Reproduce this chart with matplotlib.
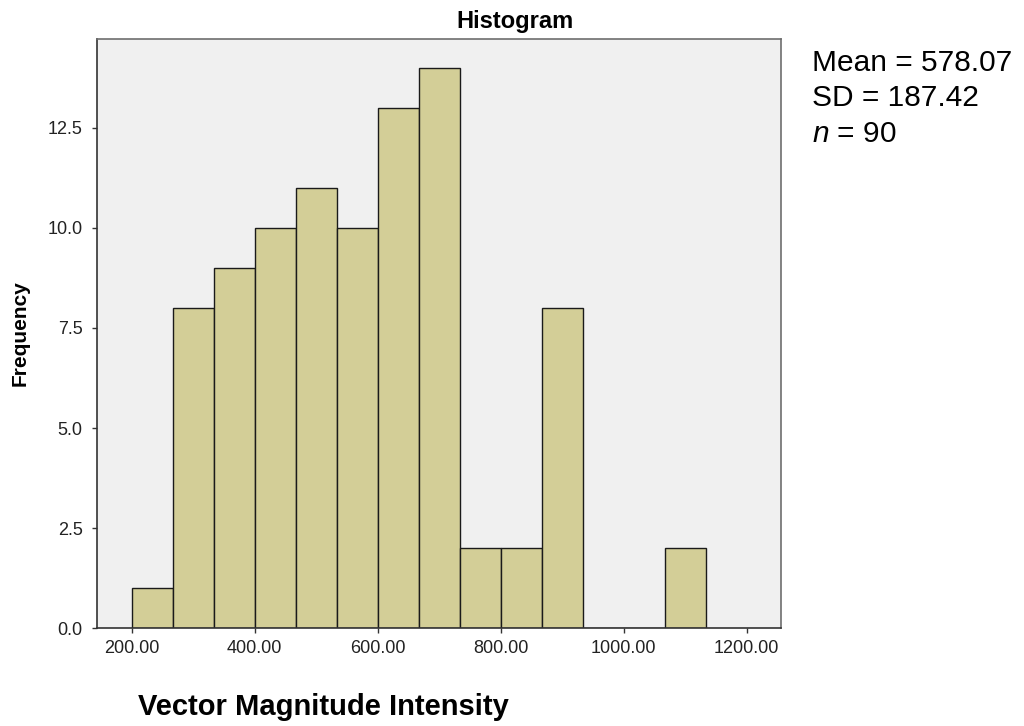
import numpy as np
import matplotlib
matplotlib.use("Agg")
import matplotlib.pyplot as plt

plt.rcParams['font.family'] = ['Liberation Sans', 'DejaVu Sans']
plt.rcParams['mathtext.fontset'] = 'custom'
plt.rcParams['mathtext.rm'] = 'Liberation Sans'
plt.rcParams['mathtext.it'] = 'Liberation Sans:italic'

# histogram bins (vector magnitude intensity) and counts
bin_edges = [200.00, 266.67, 333.33, 400.00, 466.67, 533.33, 600.00, 666.67,
             733.33, 800.00, 866.67, 933.33, 1000.00, 1066.67, 1133.33]
counts = [1, 8, 9, 10, 11, 10, 13, 14, 2, 2, 8, 0, 0, 2]

x_ticks = [200, 400, 600, 800, 1000, 1200]
y_ticks = [0, 2.5, 5.0, 7.5, 10.0, 12.5]

stats = ["Mean = 578.07", "SD = 187.42", "$n$ = 90"]

W, H = 1024, 726
fig = plt.figure(figsize=(W / 100, H / 100), dpi=100)
ax = fig.add_axes([97 / W, 1 - 628.3 / H, (781 - 97) / W, (628.3 - 38.7) / H])
ax.set_facecolor('#F0F0F0')

edges = np.array(bin_edges)
ax.bar(edges[:-1], counts, width=np.diff(edges), align='edge',
       color='#D3CE97', edgecolor='#1a1a1a', linewidth=1.0, zorder=2)

ax.set_xlim(143.6, 1255.8)
ax.set_ylim(0, 14.72)
ax.set_xticks(x_ticks)
ax.set_xticklabels(["%.2f" % v for v in x_ticks])
ax.set_yticks(y_ticks)
ax.set_yticklabels(["%.1f" % v for v in y_ticks])
ax.tick_params(axis='both', direction='out', length=3.3, width=1.0,
               color='#333333', labelsize=13, labelcolor='#222222')
ax.tick_params(axis='x', pad=5)
ax.tick_params(axis='y', pad=7)

for side in ['left', 'bottom']:
    ax.spines[side].set_color('#333333')
    ax.spines[side].set_linewidth(1.2)
for side in ['top', 'right']:
    ax.spines[side].set_color('#6e6e6e')
    ax.spines[side].set_linewidth(1.2)

fig.text(515.5 / W, 1 - 28 / H, "Histogram", ha='center', va='baseline',
         fontsize=17, fontweight='bold')
fig.text(20.5 / W, 1 - 333 / H, "Frequency", rotation=90, ha='center',
         va='center', fontsize=15, fontweight='bold')
fig.text(138 / W, 1 - 715 / H, "Vector Magnitude Intensity", ha='left',
         va='baseline', fontsize=21, fontweight='bold')

baselines = [71, 106.5, 142]
for s, yb in zip(stats, baselines):
    fig.text(811.5 / W, 1 - yb / H, s, ha='left', va='baseline', fontsize=21.5)

fig.savefig('out.png', dpi=100)
